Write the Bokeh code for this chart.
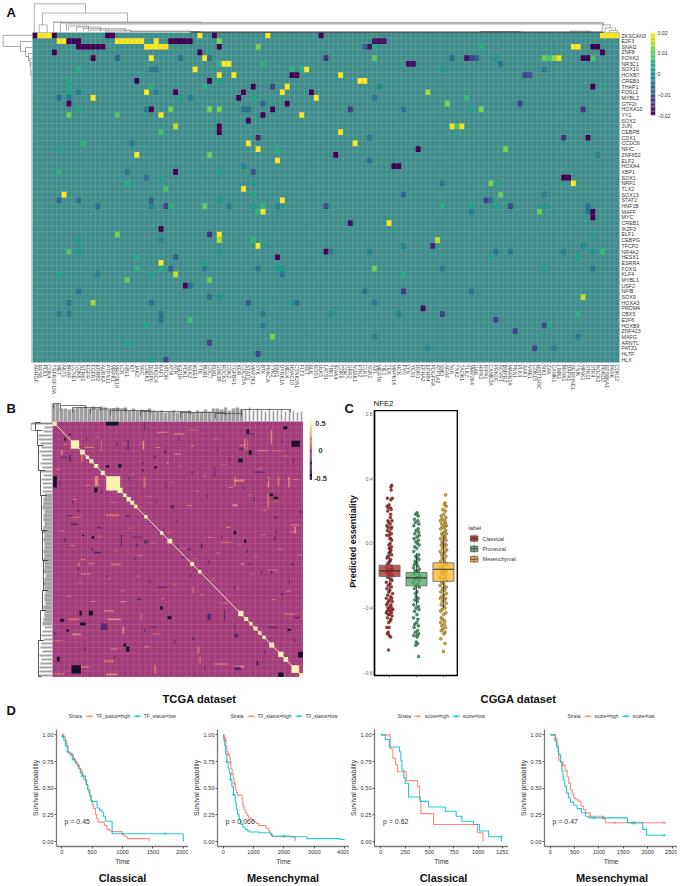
from math import pi
import numpy as np
from bokeh.plotting import figure
from bokeh.embed import file_html
from bokeh.resources import INLINE
from bokeh.models import (Range1d, LinearAxis, FixedTicker, ColumnDataSource, LinearColorMapper,
                          NumeralTickFormatter)
from bokeh.transform import transform
from bokeh.core.properties import value
from bokeh.palettes import Viridis256, Magma256

FONT = "Liberation Sans"

# ---------------------------------------------------------------- panel A
tf_rows = ["ZKSCAN3","E2F3","SNAI2","ZNF8","FOXK2","NR3C1","SOX10","HOXB7","CREB3","THAP1","FOSL1","MYBL2","GTF2I",
 "HOXA10","YY1","SOX2","JUN","CEBPB","CDX1","CCDC6","NFIC","ZNF652","ELF2","HOXA4","XBP1","SOX1","NRF1","TLX2","SOX13",
 "STAT2","HNF1B","MAFF","MYC","CREB1","IKZF3","ELF1","CEBPG","TFCP2","NR4A2","HESX1","ESRRA","FOXI1","KLF4","MYBL1",
 "USF2","NFIB","SOX9","HOXA3","PRDM4","CBX5","E2F6","HOXB9","ZNF423","MAFG","ARNTL","PATZ1","HLTF","HLX"]
gene_cols = ["ARHGF","RPS6","PLK1","CDK4","TNFRSF10A","MET","AKT1","BRAF","CCNE1","CDK6","NTRK1","EGFR","FGFR1","ERBB2",
 "AURKA","PTPN11","MAPK1","MAP3K10","LCK","ABL1","KIT","JAK2","SRC","CHEK1","DUSP6","PIK3CA","RAF1","MTOR","ATM","ATR",
 "IGF1R","PDK1","NEK2","WEE1","TTK","BUB1","CDC7","PIM1","GSK3B","ROCK1","CDK2","TGFBR1","KDR","CDC25A","STAT3","MAP2K1",
 "SYK","BTK","PRKCA","TYK2","PAK1","DYRK1A","MELK","HDAC10","CSNK2A1","FLT3","RET","ALK","ROS1","ULK1","LATS1","TBK1",
 "IRAK4","CDK9","CDK7","GRK2","NUAK1","PTK2","CLK1","SGK1","AXL","MERTK","TIE1","TEK","MAPK14","HCK","FYN","LYN","YES1",
 "DDR1","EPHA2","EPHB4","PDGFRA","ATP1A2","SMO","ARAF","NLK","TNK2","TAOK1","TLK2","MAP2K4","GAK","HIPK2","RIPK1","CAMK2A",
 "PRKDC","ACVR1","BMPR2","MARK1A","PKN1","PLK4","AAK1","NME1","CDKL5","HIST1H3C","SIK1","ZAK","CAMK1","LIMK1","BRSK1",
 "DAPK1","SERPINE1","TNIK","MINK1","STK11","STK4","ROCK2","PRKD2","RPS6KA1","PASK","CDK12"]
# strong entries of the weight matrix: row index, column index, weight
hot_col = [0,1,2,3,4,15,16,34,37,48,59,117,118,119,120]
hot_val = [-.02,.02,.02,.02,-.02,-.02,-.02,.02,-.02,.02,-.02,.02,.02,.02,.02]
cells_1 = [(1,5,.02),(1,6,.02),(1,7,-.02),(1,8,-.02),(1,9,-.02),(1,17,.02),(1,18,.02),(1,19,.02),(1,20,.02),(1,21,.02),(1,22,.02),(1,25,.02),(1,28,-.02),(1,29,-.02),(1,30,-.02),(1,31,-.02),(1,32,-.02),(1,38,.012),(1,70,-.018),(1,71,-.018),(1,72,-.018),
 (2,9,-.02),(2,10,-.02),(2,11,-.02),(2,12,-.02),(2,13,-.02),(2,14,-.02),(2,23,.02),(2,24,.02),(2,25,.02),(2,26,.02),(2,27,.02),(2,38,-.02),(2,46,.012),(2,68,-.007),(2,69,-.018),(2,70,.005),(2,92,.005),(2,111,.02),(2,112,.02),(2,115,-.02),(2,116,-.02),
 (3,4,-.02),(3,34,-.02),(3,117,-.02),
 (4,12,-.02),(4,17,-.008),(4,24,.02),(4,30,-.005),(4,35,.02),(4,36,-.005),(4,60,-.014),(4,70,.01),(4,86,-.007),(4,89,-.018),(4,90,-.012),(4,91,-.008),(4,95,.002),(4,105,.011),(4,106,.009),(4,107,.013),(4,108,.019),(4,113,-.02),(4,114,-.02),(4,115,.009),
 (5,38,.006),(5,39,.02),(5,40,.02),(5,47,.005),(5,77,-.018),(5,78,-.018),(5,96,-.005),
 (6,9,.005),(6,24,-.004),(6,25,-.004),(6,33,.02),(6,53,.006),(6,55,.005),(6,56,.02),(6,84,.002),(6,105,-.004),
 (7,38,.02),(7,41,.02),(7,53,-.02),(7,54,-.02),(7,63,.02),(7,101,-.011),(7,102,-.01),
 (8,7,.004),(8,21,-.02),(8,36,-.02),(8,38,.003),(8,67,.02),(8,68,.02),
 (9,7,.004),(9,24,.005),(9,35,.006),(9,45,-.02),(9,49,-.012),(9,52,.02),(9,71,-.001),(9,115,-.02),
 (10,7,.003),(10,9,-.003),(10,23,.02),(10,25,-.003),(10,29,-.02),(10,43,-.02),(10,51,.02),(10,57,-.02),(10,81,.015),
 (11,5,-.007),(11,7,-.004),(11,12,.02),(11,30,.003),(11,32,-.003),(11,42,-.02),(11,45,.004),(11,58,.02),(11,70,-.005),(11,89,.007),
 (12,7,-.02),(12,47,-.007),(12,52,-.02),(12,85,.012),(12,100,-.012),
 (13,9,.004),(13,23,-.004),(13,24,-.02),(13,28,.012),(13,36,.012),(13,38,.012),(13,43,-.005),(13,44,-.005),(13,49,-.02),(13,65,-.013),(13,76,-.005),(13,90,.003),(13,92,.012),(13,113,-.014),
 (14,7,.011),(14,17,.009),(14,26,.02),(14,47,-.02),(14,55,.02),(15,44,-.02),
 (16,29,.016),(16,38,-.02),(16,86,.019),(16,87,.009),(16,88,.019),
 (17,26,.008),(17,38,-.02),(17,63,.019)]
cells_2 = [(18,46,-.016),(18,69,-.005),(18,109,-.014),(18,114,-.02),
 (19,10,.006),(19,20,-.003),(19,44,.02),(19,66,.02),
 (20,5,.003),(20,46,.02),(20,50,.005),(20,79,-.02),(20,97,.012),
 (21,21,.02),(21,36,.011),(21,62,-.02),(21,116,-.001),
 (22,50,.02),(22,69,-.005),(23,43,-.002),(23,74,-.02),(23,75,-.02),
 (24,5,.006),(24,19,-.003),(24,29,-.02),(24,38,.003),(24,45,-.01),
 (25,23,-.005),(25,26,.003),(25,109,-.02),(25,110,-.02),
 (26,19,.005),(26,45,.002),(26,84,-.004),(26,94,.012),(26,95,.004),(26,111,.02),
 (27,27,.008),(27,43,.02),
 (28,6,.02),(28,45,.004),(28,76,-.007),(28,96,.011),(28,105,-.002),
 (29,5,-.008),(29,9,-.005),(29,24,-.008),(29,38,.001),(29,51,.02),(29,93,-.013),(29,94,-.005),
 (30,13,-.006),(30,24,-.003),(30,27,-.012),(30,28,.005),(30,35,.01),(30,40,-.003),(30,45,.002),(30,47,.006),(30,50,-.002),(30,60,-.011),(30,84,.005),(30,90,.004),(30,95,.003),(30,98,-.011),(30,105,.002),(30,114,-.006),
 (31,46,.006),(31,47,.02),(31,90,-.003),(31,104,.011),(31,114,-.005),(31,115,-.02),
 (32,115,-.02),(33,65,-.018),(33,73,.02),(34,26,-.02),
 (35,17,.012),(35,36,-.015),(35,38,.02),(35,115,.003),
 (36,9,.002),(36,26,-.001),(36,38,.015),(36,45,.006),(36,83,.016),
 (37,46,.02),(37,47,.002),(37,76,-.002),(37,82,-.016),(37,113,-.001),
 (38,7,.009),(38,9,.002),(38,38,.001),(38,60,-.02),(38,61,-.004),(38,69,-.002),(38,95,-.005),(38,98,-.005),(38,109,-.002),(38,115,.002),(38,117,.007),
 (39,21,.005),(39,29,-.008),(39,50,-.02),(39,94,.003),(39,112,.003),
 (40,26,.02),(40,35,.003),
 (41,21,.006),(41,26,.004),(41,28,-.008),(41,35,-.004),(41,46,-.005),(41,50,.002),(41,51,.002),(41,70,.011),(41,84,-.004),(41,105,.003),(41,115,-.005),
 (42,5,.004),(42,13,-.003),(42,24,.003),(42,29,.016),(42,51,-.005),(42,76,.005),
 (43,19,.011),(43,36,.012),(44,31,-.02),(44,32,-.006),
 (45,9,-.005),(45,68,-.005),(45,76,-.014),(45,90,-.005),
 (46,36,-.005),(46,38,.001),(46,113,.016),
 (47,7,-.005),(47,12,.014),(47,24,-.005),(47,44,-.009),(47,53,.002),(47,54,-.006),(47,70,-.003),
 (48,80,-.019),
 (49,5,-.003),(49,7,-.004),(49,26,-.004),(49,47,-.004),(49,61,.001),(49,75,-.002),(49,84,-.012),(49,112,.006),
 (50,26,-.005),(50,32,.008),(50,95,-.012),
 (51,23,.004),(51,47,-.003),(51,105,-.012),(51,106,.004),
 (52,99,-.012),(53,49,.012),(53,70,-.002),(53,112,-.003),
 (54,19,.004),(54,36,-.012),
 (55,81,-.001),(55,103,-.012),(55,107,-.003),
 (56,46,-.012),(57,24,.002),(57,27,-.012)]
cb_a_ticks = [-0.02,-0.01,0,0.01,0.02]
cb_a_labels = ["\u22120.02","\u22120.01","0","0.01","0.02"]

# ---------------------------------------------------------------- panel B (row / column rank units)
b_base = "#a33c78"
b_diag = [(155,168),(210,235),(238,252),(255,265),(266,278),(280,292),(300,312),(316,358),(350,365),(367,377),(377,390),(388,400),
          (400,410),(430,440),(478,488),(500,514),(568,580),(592,602),(712,728),(730,742),(745,755),(758,770),(772,782),(785,795),
          (805,820),(832,848),(848,862),(872,895),(895,908)]
b_dark = [(315,353,64,76),(847,860,78,87),(737,745,88,100),(205,210,100,105),(190,195,113,121),(872,897,122,140),(744,753,150,164),
          (712,726,175,186),(316,325,195,202),(352,362,192,202),(157,168,228,262),(280,290,263,276),(806,816,280,288),(818,832,290,298),
          (424,428,208,213),(460,468,198,205),(698,706,392,402),(730,736,418,428),(272,280,408,416),(245,250,404,408),(478,486,618,628),
          (500,512,648,657),(236,243,632,646),(264,276,632,646),(178,190,656,665),(238,254,667,676),(860,870,686,692),(368,376,730,740),
          (376,386,740,755),(892,908,755,772),(168,177,770,784),(212,240,795,820),(832,848,817,832),(768,772,783,795),(196,205,688,694)]
b_warm = [(428,434,230,262),(282,292,228,258),(860,870,232,236),(862,866,232,262),(316,355,342,348),(700,730,238,244),(700,705,230,260),
          (800,805,230,262),(830,836,230,258),(730,734,115,150),(738,741,115,150),(180,185,150,165),(240,246,150,185),(425,430,122,148),
          (570,580,135,140),(520,540,160,163),(498,503,185,192),(232,236,488,498),(262,280,488,492),(310,340,630,634),(205,235,655,660),
          (215,240,700,705),(310,340,780,786),(315,350,820,825),(460,466,795,820),(240,265,798,802),(595,600,770,790),(700,730,797,802),
          (870,895,372,376),(880,885,380,400),(800,805,280,325),(695,710,312,318),(905,908,630,660),(640,680,790,793),(210,240,350,353),
          (365,370,680,700),(590,596,740,760),(430,445,738,741),(800,830,508,512),(720,730,490,494),(330,360,490,495),(320,360,655,660),
          (850,880,640,644),(360,375,603,606),(655,665,607,610),(160,190,820,823),(155,185,720,723),(520,550,100,103),(560,590,88,91),
          (470,500,95,98),(300,303,120,155),(250,280,140,143),(420,424,640,660),(330,350,745,748),(455,480,700,703),(770,800,150,153),
          (815,845,150,153),(810,814,90,130),(660,690,425,428),(240,270,520,523),(575,579,560,580)]
b_cool = [(205,210,165,185),(228,236,330,335),(210,230,370,375),(375,385,345,350),(405,410,430,440),(460,465,165,175),(490,496,150,160),
          (510,520,315,325),(290,300,380,385),(560,570,445,450),(735,760,100,103),(715,730,145,150),(800,830,680,683),(575,580,710,720),
          (700,712,700,712),(300,320,670,690),(430,440,420,430),(870,880,490,495),(410,420,595,600),(525,530,360,365),(620,630,640,660),
          (880,895,650,655),(740,752,490,492),(840,850,580,585),(600,605,430,445),(700,720,800,810),(820,830,350,355),(810,815,510,520),
          (820,825,410,420),(280,300,455,460),(200,215,345,348),(430,433,66,90),(360,363,405,440),(395,425,410,413),(450,470,680,683),
          (540,560,470,473),(640,643,200,230),(180,200,170,173),(760,790,215,218),(670,673,630,660),(380,384,120,150),(470,500,560,563)]
# tiny dashes scattered through the matrix: column rank, row rank
dash_warm_x = [170,195,222,260,288,335,372,396,444,472,512,538,566,588,612,644,668,690,722,748,776,792,826,852,884,182,214,246,296,344,388,418,456,506,548,582,628,652,682,716,764,788,838,874,896,204,238,276,322,366,412,486,522,604,636,674,708,756,818,862]
dash_warm_y = [208,132,298,256,110,306,128,222,288,142,246,198,316,272,228,116,194,262,136,284,206,330,300,168,238,392,436,478,408,452,384,466,428,398,444,476,412,458,382,432,470,404,448,396,464,588,548,604,536,572,528,596,552,584,540,610,566,522,598,574]
dash_cool_x = [178,216,258,302,348,384,426,466,496,534,574,618,650,686,728,760,800,844,878,900,192,232,274,318,362,402,448,488,530,570,624,662,702,740,782,826,866,162,252,342,432,522,612,702,792,882]
dash_cool_y = [250,306,118,276,132,236,190,304,258,116,218,288,150,176,264,296,240,122,182,336,420,506,448,530,410,476,544,392,438,526,486,412,564,452,518,394,546,700,746,772,690,724,806,680,756,720]

cb_b_labels = ["0.5","0","-0.5"]
cb_b_label_y = [423,450,478]

# ---------------------------------------------------------------- panel C
c_labels = ["Classical","Proneural","Mesenchymal"]
c_q1  = [-0.205,-0.263,-0.235]
c_med = [-0.170,-0.213,-0.160]
c_q3  = [-0.135,-0.180,-0.120]
c_lo  = [-0.310,-0.385,-0.400]
c_hi  = [-0.030,-0.060,0.050]
classical_y = [.36,.35,.33,.28,.28,.27,.24,.23,.22,.22,.21,.2,.18,.16,.14,.14,.13,.12,.11,.1,.1,.09,.08,.07,.06,.05,.05,.03,.03,.02,0,-.01,-.02,-.03,-.04,-.05,-.06,-.07,-.08,-.09,-.1,-.11,-.12,-.13,-.14,-.15,-.16,-.16,-.17,-.18,-.18,-.19,-.2,-.2,-.21,-.22,-.23,-.24,-.25,-.26,-.27,-.28,-.29,-.3,-.31,-.32,-.33,-.34,-.34,-.35,-.36,-.36,-.37,-.38,-.38,-.39,-.4,-.4,-.41,-.41,-.42,-.42,-.43,-.43,-.44,-.44,-.45,-.46,-.47,-.48,-.49,-.52,-.52,-.55,-.56,-.57,-.58,-.66]
classical_dx = [.08,.05,.06,.1,-.08,.05,-.02,-.09,.03,-.05,.06,-.07,.04,.03,.09,-.06,-.03,.02,-.1,.08,-.05,.05,-.08,0,.07,-.02,-.1,.04,.01,.08,.02,-.03,.07,-.01,.05,.03,-.02,.08,-.06,-.09,.04,.01,-.04,-.08,.07,-.11,.03,.1,-.05,.06,-.09,.01,.11,-.03,-.07,.05,.09,-.12,.02,-.05,.07,-.1,.01,-.03,.11,-.07,.04,-.12,.08,0,-.04,.1,-.08,.05,-.11,.02,-.06,.08,.12,-.02,-.09,.04,-.12,.07,0,-.05,.09,-.08,.05,.02,-.03,-.02,-.1,-.05,-.08,-.01,.04,-.04]
proneural_y = [.19,.18,.17,.15,.14,.13,.12,.11,.09,.08,.07,.06,.05,.04,.03,.02,.01,0,-.01,-.02,-.03,-.05,-.07,-.08,-.09,-.1,-.11,-.12,-.13,-.14,-.15,-.16,-.17,-.17,-.18,-.19,-.2,-.21,-.22,-.23,-.24,-.25,-.26,-.27,-.28,-.3,-.31,-.33,-.34,-.35,-.36,-.38,-.39,-.4,-.41,-.42,-.44,-.46,-.47,-.49,-.5,-.51,-.52,-.54,-.55,-.56,-.57,-.57,-.58,-.61,-.62,-.63,-.7]
proneural_dx = [.02,-.03,.06,-.08,.05,-.04,.09,-.1,.06,-.02,.08,-.06,.1,.02,-.09,.07,-.03,.04,.1,-.07,.01,-.1,.08,-.03,.03,.09,-.05,.01,-.08,.05,-.11,.1,.02,-.05,.07,-.09,.12,.02,-.06,.09,-.12,.04,-.03,.1,-.08,.02,-.04,-.01,.06,-.06,.03,-.1,.07,-.02,.09,-.07,.02,-.11,.05,.01,-.06,.07,-.09,.04,-.04,.08,-.1,.03,.02,-.01,.04,-.03,.08]
mesen_y = [.3,.25,.24,.23,.21,.2,.18,.17,.16,.15,.14,.14,.13,.12,.12,.11,.1,.1,.09,.08,.07,.06,.06,.05,.04,.03,.03,.02,.01,0,-.01,-.01,-.02,-.03,-.04,-.05,-.05,-.06,-.07,-.08,-.09,-.1,-.11,-.12,-.13,-.14,-.15,-.16,-.17,-.17,-.18,-.19,-.2,-.21,-.22,-.23,-.24,-.25,-.26,-.27,-.27,-.28,-.29,-.3,-.31,-.32,-.33,-.34,-.34,-.35,-.36,-.37,-.38,-.39,-.4,-.41,-.42,-.43,-.44,-.46,-.47,-.48,-.49,-.5,-.51,-.52,-.53,-.54,-.55,-.56,-.59,-.62,-.67]
mesen_dx = [.08,.06,.04,.1,-.02,.07,.01,-.08,.09,-.05,.04,-.11,.08,.01,-.07,.11,.05,-.04,-.1,.08,.02,-.06,.11,-.02,.06,-.1,.03,.09,-.05,.01,.1,-.08,.04,-.03,.12,-.11,.06,.01,-.07,.09,-.04,.03,-.1,.07,.12,-.02,-.12,.05,-.07,.1,.02,-.05,.08,-.1,.03,.12,-.06,.01,-.12,.07,.1,-.03,.04,-.09,.11,.01,-.06,.08,-.11,.03,-.04,.1,-.08,.02,.06,-.05,-.1,.09,.01,-.08,-.03,.05,-.1,.03,-.06,.08,-.02,-.08,.06,.02,-.1,.06,0]

# ---------------------------------------------------------------- panel D
p1_hi_t = [0,30,60,75,88,104,130,170,190,225,245,263,290,318,340,362,395,428,445,461,480,500,520,555,575,598,664,700,747,790,829,939,994,1030,1076,1433,1440]
p1_hi_s = [1,.98,.948,.925,.90,.84,.83,.81,.77,.75,.73,.71,.685,.657,.62,.58,.535,.49,.455,.426,.385,.35,.31,.253,.215,.182,.182,.15,.114,.1,.093,.093,.068,.05,.028,.02,.006]
p1_lo_t = [0,33,60,88,120,154,185,209,230,253,280,307,346,390,410,428,461,483,555,582,620,664,690,719,802,829,2000,2001]
p1_lo_s = [.985,.95,.895,.84,.825,.81,.775,.75,.735,.716,.68,.64,.614,.577,.53,.485,.43,.377,.377,.315,.295,.275,.235,.19,.19,.074,.074,0]
p2_hi_t = [0,25,66,95,121,165,209,230,253,295,330,365,396,430,473,604,625,648,690,725,780,835,920,1000,1080,1165,1330,1410,1495,1550,1604,2319,2374]
p2_hi_s = [1,.975,.948,.895,.84,.815,.793,.74,.685,.635,.593,.54,.49,.46,.435,.435,.38,.33,.3,.275,.245,.222,.205,.19,.17,.151,.151,.125,.099,.07,.046,.037,.006]
p2_lo_t = [0,20,44,80,121,160,198,240,286,340,396,435,473,525,582,650,725,800,868,1165,1571,1604,2209,2758,3857,4000]
p2_lo_s = [1,.95,.90,.82,.747,.69,.639,.58,.515,.44,.361,.305,.253,.205,.16,.135,.114,.1,.09,.083,.074,.052,.046,.028,.02,.02]
p3_hi_t = [0,79,96,123,150,171,250,260,377,397,411,524,541,986,993,1048,1049]
p3_hi_s = [1,1,.87,.778,.72,.654,.654,.571,.515,.392,.262,.262,.16,.16,.083,.083,0]
p3_lo_t = [0,45,86,192,205,216,235,250,284,397,404,490,651,661,774,832,952,1014,1106,1240,1241]
p3_lo_s = [1,.957,.886,.84,.76,.67,.6,.546,.417,.417,.377,.324,.324,.284,.238,.191,.16,.099,.046,.046,0]
p4_hi_t = [0,75,110,143,160,177,220,265,305,347,380,415,450,483,530,585,632,680,721,823,1095,1129,2353]
p4_hi_s = [1,1,.96,.917,.84,.762,.74,.716,.665,.608,.545,.485,.445,.407,.39,.377,.33,.3,.269,.238,.222,.176,.176]
p4_lo_t = [0,75,100,129,170,211,240,265,300,333,375,415,480,551,640,721,789,1571,1584,1877,1897,1979,2340]
p4_lo_s = [1,1,.94,.886,.815,.747,.66,.577,.515,.454,.41,.37,.34,.309,.27,.238,.222,.222,.176,.176,.114,.059,.059]
km_ticks = [[0,500,1000,1500,2000],[0,1000,2000,3000,4000],[0,250,500,750,1000,1250],[0,500,1000,1500,2000,2500]]
km_range = [(-87,2087),(-188,4158),(-66,1312),(-117,2611)]
km_p = ["p = 0.45","p = 0.066","p = 0.62","p = 0.47"]
km_censor_hi = [([20,150,230,270,310],[1,.81,.75,.71,.657]),([40,70,150,220,280,360],[.97,.948,.815,.74,.635,.54]),
                ([950],[.16]),([100,250,820,1100,1320,1720,2340],[.96,.716,.238,.222,.176,.176,.176])]
km_censor_lo = [([20,180,330,1700],[.985,.775,.614,.074]),([110,230,330,2000],[.747,.58,.44,.052]),
                ([1235],[.046]),([900,1080,1680,1730,2340],[.222,.222,.176,.176,.059])]

RED, TEAL = "#F8766D", "#00BFC4"
CRED, CGRN, CYEL = "#b22c2c", "#4fa866", "#fcb62c"
PRED, PGRN, PYEL = "#b03030", "#459a60", "#e0aa25"

roots = []
def mk(l, t, r, b, bl=0, bt=0, br=0, bb=0, **kw):
    f = figure(width=r-l+bl+br, height=b-t+bt+bb, min_border_left=bl, min_border_top=bt, min_border_right=br,
               min_border_bottom=bb, toolbar_location=None, output_backend="svg", x_axis_type=None, y_axis_type=None,
               styles={"position": "absolute", "left": f"{l-bl}px", "top": f"{t-bt}px"}, **kw)
    f.grid.visible = False
    f.outline_line_color = None
    f.border_fill_color = None
    f.background_fill_color = None
    roots.append(f)
    return f

# ---- A heatmap
a = mk(32, 32, 619, 362, br=40, bb=36, x_range=Range1d(0, 121), y_range=Range1d(58, 0))
a.background_fill_color = "#3f8d8b"
cells = [(0, c, v) for c, v in zip(hot_col, hot_val)] + cells_1 + cells_2
mapper = LinearColorMapper(palette=Viridis256, low=-0.02, high=0.02)
csrc = ColumnDataSource(dict(x=[c[1]+.5 for c in cells], y=[c[0]+.5 for c in cells], v=[c[2] for c in cells]))
n_r, n_c = len(tf_rows), len(gene_cols)
a.segment(x0=list(range(n_c+1)), y0=[0]*(n_c+1), x1=list(range(n_c+1)), y1=[n_r]*(n_c+1), line_color="white", line_alpha=.18, line_width=.7)
a.segment(x0=[0]*(n_r+1), y0=list(range(n_r+1)), x1=[n_c]*(n_r+1), y1=list(range(n_r+1)), line_color="white", line_alpha=.18, line_width=.7)
a.rect(x="x", y="y", width=1, height=1, source=csrc, fill_color=transform("v", mapper), line_color=None)
ya = LinearAxis(ticker=FixedTicker(ticks=[i+.5 for i in range(n_r)]), major_label_overrides={i+.5: s for i, s in enumerate(tf_rows)},
                major_tick_line_color=None, axis_line_color=None, major_label_standoff=2, major_tick_out=0, major_tick_in=0,
                major_label_text_font=FONT, major_label_text_font_size="5.3px", major_label_text_color="#333333")
a.add_layout(ya, "right")
xa = LinearAxis(ticker=FixedTicker(ticks=[i+.5 for i in range(n_c)]), major_label_overrides={i+.5: s for i, s in enumerate(gene_cols)},
                major_tick_line_color=None, axis_line_color=None, major_label_standoff=2, major_tick_out=0, major_tick_in=0,
                major_label_orientation=-pi/2,
                major_label_text_font=FONT, major_label_text_font_size="5.2px", major_label_text_color="#444444")
a.add_layout(xa, "below")

# ---- colour bars
def colorbar(l, t, r, b, pal, low, high, ticks=None, labels=None, br=0, bt=0, bb=0, size="5px"):
    f = mk(l, t, r, b, br=br, bt=bt, bb=bb, x_range=Range1d(0, 1), y_range=Range1d(low, high))
    edges = np.linspace(low, high, 65)
    idx = np.linspace(0, 255, 64).astype(int)
    f.quad(left=0, right=1, bottom=edges[:-1], top=edges[1:], fill_color=[pal[i] for i in idx], line_color=None)
    if ticks:
        ax = LinearAxis(ticker=FixedTicker(ticks=ticks), major_label_overrides=dict(zip(ticks, labels)), axis_line_color=None,
                        major_tick_line_color=None, major_tick_out=0, major_tick_in=0, major_label_standoff=2,
                        major_label_text_font=FONT, major_label_text_font_size=size, major_label_text_color="#333333")
        f.add_layout(ax, "right")
colorbar(650, 32, 655, 115, Viridis256, -0.02, 0.02, cb_a_ticks, cb_a_labels, br=24, bt=5, bb=5, size="5.2px")
colorbar(309, 421, 312, 480, Magma256, -0.535, 0.535)

# ---- B heatmap
b = mk(52, 421, 303, 677, x_range=Range1d(155, 908), y_range=Range1d(832, 64))
b.background_fill_color = b_base
gx = list(np.arange(155, 908, 17.4)); gy = list(np.arange(64, 832, 17.4))
b.segment(x0=gx, y0=[64]*len(gx), x1=gx, y1=[832]*len(gx), line_color="#e8a9c8", line_alpha=.2, line_width=.9)
b.segment(x0=[155]*len(gy), y0=gy, x1=[908]*len(gy), y1=gy, line_color="#e8a9c8", line_alpha=.2, line_width=.9)
def rects(lst, **kw):
    b.quad(left=[r[0] for r in lst], right=[r[1] for r in lst], top=[r[2] for r in lst], bottom=[r[3] for r in lst], line_color=None, **kw)
rects(b_warm[::2], fill_color="#f37e61", fill_alpha=.7)
rects(b_warm[1::2], fill_color="#fcb27c", fill_alpha=.65)
rects(b_cool, fill_color="#3f1f70", fill_alpha=.75)
rects(b_dark, fill_color="#120d24", fill_alpha=.95)
b.rect(x=dash_warm_x, y=dash_warm_y, width=13, height=2.6, fill_color="#f58a68", fill_alpha=.75, line_color=None)
b.rect(x=dash_cool_x, y=dash_cool_y, width=2.8, height=11, fill_color="#35206a", fill_alpha=.75, line_color=None)
b.line(x=[155, 908], y=[64, 832], line_color="#fde3b0", line_width=1)
b.quad(left=[d[0] for d in b_diag], right=[d[1] for d in b_diag],
       top=[64+(d[0]-155)*768/753 for d in b_diag], bottom=[64+(d[1]-155)*768/753 for d in b_diag],
       fill_color="#fcf0b4", line_color=None)

# ---- C box / jitter
c = mk(374, 410, 458, 677, bl=24, x_range=Range1d(.44, 3.56), y_range=Range1d(-0.818, 0.823))
c.outline_line_color = "black"; c.outline_line_width = 1.7
cyc = LinearAxis(ticker=FixedTicker(ticks=[-.8,-.4,0,.4,.8]),
                 major_label_overrides={-.8:"\u22120.8",-.4:"\u22120.4",0:"0.0",.4:"0.4",.8:"0.8"},
                 axis_line_color=None, major_tick_out=1, major_tick_in=0, major_tick_line_color="#555555", major_label_standoff=1,
                 major_label_text_font=FONT, major_label_text_font_size="4.8px", major_label_text_color="#666666")
c.add_layout(cyc, "left")
cxa = LinearAxis(ticker=FixedTicker(ticks=[1,2,3]), major_label_overrides={1:"",2:"",3:""}, axis_line_color=None,
                 major_tick_line_color="#444444", major_tick_out=2, major_tick_in=0)
c.add_layout(cxa, "below")
for i, (ys, dxs, pc) in enumerate([(classical_y, classical_dx, PRED), (proneural_y, proneural_dx, PGRN), (mesen_y, mesen_dx, PYEL)]):
    pairs = list(zip(ys, dxs))
    c.scatter(x=[i+1+d for _, d in pairs], y=[v for v, _ in pairs], size=3, fill_color=pc, line_color="#2a2a2a", line_width=.35)
xs = [1, 2, 3]
c.segment(x0=xs, x1=xs, y0=c_q3, y1=c_hi, line_color="#333333", line_width=.8)
c.segment(x0=xs, x1=xs, y0=c_q1, y1=c_lo, line_color="#333333", line_width=.8)
c.quad(left=[x-.39 for x in xs], right=[x+.39 for x in xs], bottom=c_q1, top=c_q3, fill_color=[CRED, CGRN, CYEL], fill_alpha=.78,
       line_color="#666666", line_width=.8)
c.segment(x0=[x-.39 for x in xs], x1=[x+.39 for x in xs], y0=c_med, y1=c_med, line_color="#333333", line_width=1.2)

# ---- D survival
frames = [(56, 188), (217, 349), (374, 508), (544, 677)]
curves = [(p1_hi_t, p1_hi_s, p1_lo_t, p1_lo_s), (p2_hi_t, p2_hi_s, p2_lo_t, p2_lo_s),
          (p3_hi_t, p3_hi_s, p3_lo_t, p3_lo_s), (p4_hi_t, p4_hi_s, p4_lo_t, p4_lo_s)]
for k, (l, r) in enumerate(frames):
    f = mk(l, 729, r, 847, bl=28, bb=20, x_range=Range1d(*km_range[k]), y_range=Range1d(-0.046, 1.05))
    ht, hs, lt, ls = curves[k]
    f.step(ht, hs, mode="after", line_color=RED, line_width=1.1, line_alpha=.85)
    f.step(lt, ls, mode="after", line_color=TEAL, line_width=1.1, line_alpha=.85)
    f.scatter(*km_censor_hi[k], marker="cross", size=3.5, line_color=RED, line_width=.6)
    f.scatter(*km_censor_lo[k], marker="cross", size=3.5, line_color=TEAL, line_width=.6)
    common = dict(axis_line_color="#7a7a7a", axis_line_width=1.3, major_tick_line_color="#555555", major_tick_out=2, major_tick_in=0,
                  minor_tick_line_color=None, major_label_standoff=1, major_label_text_font=FONT, major_label_text_font_size="5.6px",
                  major_label_text_color="#333333", axis_label_text_font=FONT, axis_label_text_font_size="6.7px",
                  axis_label_text_font_style="normal", axis_label_text_color="#333333", axis_label_standoff=1)
    yax = LinearAxis(ticker=FixedTicker(ticks=[0,.25,.5,.75,1]), formatter=NumeralTickFormatter(format="0.00"),
                     axis_label="Survival probability", **common)
    f.add_layout(yax, "left")
    xax = LinearAxis(ticker=FixedTicker(ticks=km_ticks[k]), axis_label="Time", **common)
    f.add_layout(xax, "below")

# ---- overlay: titles, keys, dendrograms
o = mk(0, 0, 681, 886, x_range=Range1d(0, 681), y_range=Range1d(886, 0))
def t(x, y, s, size, bold=False, align="left", color="#111111", angle=0):
    o.text(x=[x], y=[y], text=[s], text_font=value(FONT), text_font_size=value(f"{size}px"), text_color=color, angle=angle,
           text_font_style="bold" if bold else "normal", text_align=align, text_baseline="middle")
for s, x, y in [("A", 6, 11.5), ("B", 6, 408), ("C", 344, 407.5), ("D", 6, 709.5)]:
    t(x, y, s, 13, True)
for s, y in zip(cb_b_labels, cb_b_label_y):
    t(320, y, s, 7.4, True, "center", "#333333")
t(199, 698.5, "TCGA dataset", 11.2, True, "center")
t(518, 698.5, "CGGA dataset", 11.2, True, "center")
for x, s in [(122, "Classical"), (282.5, "Mesenchymal"), (443, "Classical"), (611.5, "Mesenchymal")]:
    t(x, 877, s, 11, True, "center")
for x, s in [(64, 0), (225, 1), (382.5, 2), (552, 3)]:
    t(x, 821, km_p[s], 7, False, "left", "#333333")
t(373, 403, "NFE2", 7.8)
t(352.7, 541, "Predicted essentiality", 9, True, "center", "#111111", pi/2)
t(468, 527, "label", 6, False, "left", "#333333")
keys_y = [538, 548.3, 558.7]
for ky, name, col in zip(keys_y, c_labels, [CRED, CGRN, CYEL]):
    o.quad(left=[469.3], right=[478], top=[ky-4.3], bottom=[ky+4.3], fill_color="#ededed", line_color=None)
    o.quad(left=[470], right=[477.3], top=[ky-2.6], bottom=[ky+2.6], fill_color=col, fill_alpha=.85, line_color="#333333", line_width=.6)
    o.segment(x0=[470], x1=[477.3], y0=[ky], y1=[ky], line_color="#333333", line_width=.8)
    o.segment(x0=[473.6], x1=[473.6], y0=[ky-4], y1=[ky+4], line_color="#333333", line_width=.5)
    t(482, ky, name, 5.4, False, "left", "#333333")
leg = [(68.3, 85.7, 95.7, "TF_status=high", 133.3, 143.3, "TF_status=low"), (230, 247.3, 257, "TF_status=high", 295, 305, "TF_status=low"),
       (397.3, 414, 424.3, "score=high", 452.3, 462.3, "score=low"), (567, 584, 594, "score=high", 622, 632, "score=low")]
for sx, k1, t1, s1, k2, t2, s2 in leg:
    t(sx, 715.7, "Strata", 4.9, False, "left", "#333333")
    for kx, col, tx, s in [(k1, RED, t1, s1), (k2, TEAL, t2, s2)]:
        o.segment(x0=[kx], x1=[kx+7], y0=[715.7], y1=[715.7], line_color=col, line_width=1)
        o.scatter(x=[kx+3.5], y=[715.7], marker="cross", size=3, line_color=col, line_width=.6)
        t(tx, 715.7, s, 4.9, False, "left", "#333333")

# dendrogram of A, top: (x left, x right, y top, bottom of left leg, bottom of right leg)
dt_a = [(33.7,85,3.3,32,12),(42,127,12.5,24,21.5),(38.7,46.7,24.3,32,32),(53.3,201,21.5,32,23),(60,603,22.5,32,24),(66,603,23.5,30,25),
        (68,88,25.5,30,31),(76,100,26.5,31,31),(83,125,28,31,31),(90,130,29.5,31,31.5),(105,190,30.5,32,31.5),(130,200,31,32,31.5),
        (601.7,610,24.3,32,27),(604.5,615,27.5,32,30),(609,617,30,32,32),(570,590,30.6,32,32),(480,520,31,32,32)]
for xl, xr, yt, yl, yr in dt_a:
    o.multi_line(xs=[[xl, xl, xr, xr]], ys=[[yl, yt, yt, yr]], line_color="#707070", line_width=.55)
o.segment(x0=[190], x1=[603], y0=[31.6], y1=[31.6], line_color="#151515", line_width=1)
o.segment(x0=[53], x1=[603], y0=[22], y1=[22], line_color="#909090", line_width=.6)
# dendrogram of A, left: (x node, y upper leaf, y lower leaf, x of lower child)
dl_a = [(2.7,34.9,46,20),(20,41,51,25),(25,47,56,28),(28,53,60,29.5),(29.5,58,65,30.3),(30.3,62,75,31)]
for xn, y1, y2, xc in dl_a:
    o.multi_line(xs=[[31.7, xn, xn, xc]], ys=[[y1, y1, y2, y2]], line_color="#707070", line_width=.6)
o.segment(x0=[31.2], x1=[31.2], y0=[70], y1=[362], line_color="#aaaaaa", line_width=.8)

# dendrogram of B, top: reached height of the leaf bundles, every 4 px
bt_tops = [403,403,408,408,409,408,407,407,406,408,406,409,406,407,409,408,407,409,407,410,408,410,409,410,408,410,411,410,412,411,410,412,411,412,410,412,410,411,409,411,408,408,409,407,410,408,407,409,409,407,410,408,409,411,408,410,409,409,411,409,410,412,411]
bx = [53+4*i for i in range(len(bt_tops))]
o.segment(x0=bx, x1=bx, y0=bt_tops, y1=[421]*len(bx), line_color="#a0a0a0", line_width=[3.6 if x < 243 else 1.6 for x in bx])
bt_steps = [(53,60,403),(60,85,405),(72,100,407),(90,125,408.5),(110,150,410),(140,190,411),(180,225,412),(215,241,413),(241,290,409)]
for xl, xr, yt in bt_steps:
    o.multi_line(xs=[[xl, xl, xr, xr]], ys=[[yt+5, yt, yt, yt+3]], line_color="#444444", line_width=.7)
# dendrogram of B, left: reached depth of the leaf bundles, every 4 px
bl_lefts = [31,44,43,38,38,40,41,39,41,42,40,42,41,43,41,42,43,42,44,43,43,42,44,43,43,44,43,42,44,43,44,44,43,44,43,44,44,43,45,44,43,44,45,44,44,45,43,44,44,43,42,44,42,41,43,41,40,42,39,41,40,39,39,38]
by = [423+4*i for i in range(len(bl_lefts))]
o.segment(x0=bl_lefts, x1=[51.5]*len(by), y0=by, y1=by, line_color="#a5a5a5", line_width=[2 if i < 18 or i > 50 else 3.8 for i in range(len(by))])
bl_steps = [(35,422,430),(37,430,445),(38,445,470),(40,470,495),(41,495,530),(42,530,560),(43,560,590),(42,590,610),(40,610,640),(38,640,676)]
for xn, y1, y2 in bl_steps:
    o.multi_line(xs=[[xn+5, xn, xn, xn+3]], ys=[[y1, y1, y2, y2]], line_color="#333333", line_width=.8)
o.multi_line(xs=[[52, 30.7, 30.7, 37]], ys=[[423, 423, 430, 430]], line_color="#707070", line_width=.6)

open("out.html", "w").write(file_html(roots, INLINE, title="figure"))
